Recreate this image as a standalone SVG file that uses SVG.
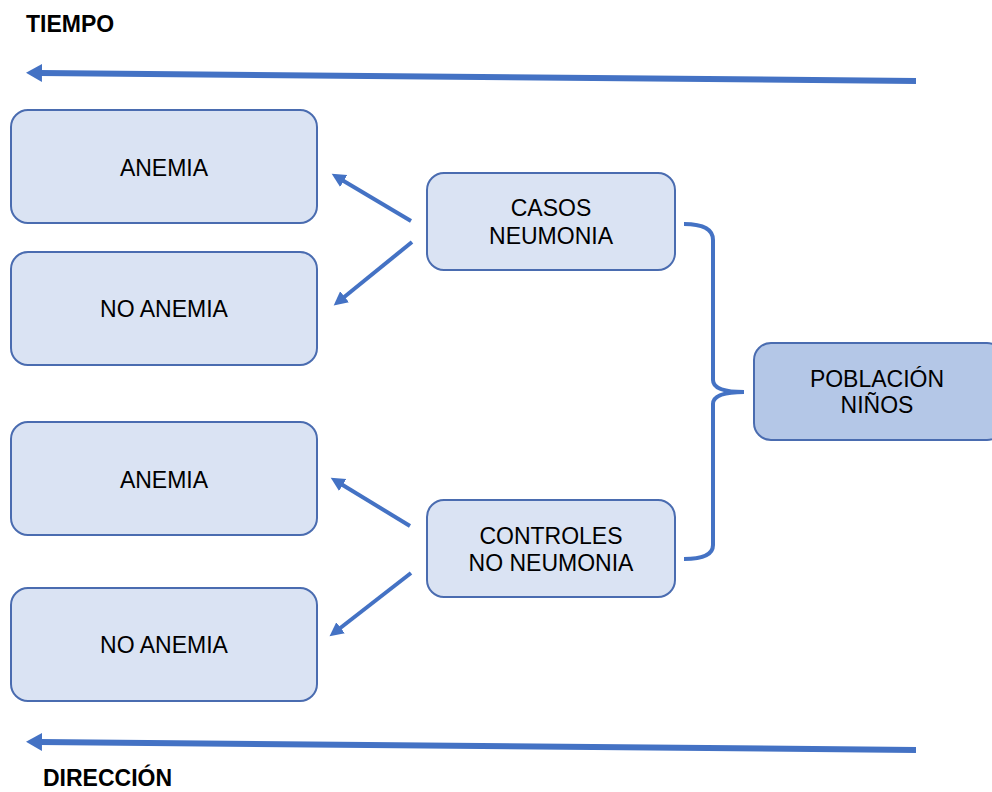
<svg xmlns="http://www.w3.org/2000/svg" width="992" height="792" viewBox="0 0 992 792">
<style>
.box{fill:#dae3f3;stroke:#4a6cb0;stroke-width:2}
.box2{fill:#b4c7e7;stroke:#4a6cb0;stroke-width:2}
.t{font-family:"Liberation Sans",Arial,sans-serif;font-size:23px;fill:#000;text-anchor:middle}
.h{font-family:"Liberation Sans",Arial,sans-serif;font-size:23px;font-weight:bold;fill:#000}
.big{stroke:#4472c4;stroke-width:6;fill:none}
.sm{stroke:#4472c4;stroke-width:4;fill:none}
</style>
<defs>
<marker id="ab" markerUnits="userSpaceOnUse" markerWidth="20" markerHeight="22" refX="2" refY="11" orient="auto" viewBox="0 0 20 22">
<path d="M0,2 L16,11 L0,20 Z" fill="#4472c4"/>
</marker>
<marker id="as" markerUnits="userSpaceOnUse" markerWidth="16" markerHeight="16" refX="2" refY="8" orient="auto" viewBox="0 0 16 16">
<path d="M0,1 L14,8 L0,15 Z" fill="#4472c4"/>
</marker>
</defs>
<rect width="992" height="792" fill="#fff"/>
<text class="h" x="26" y="32">TIEMPO</text>
<text class="h" x="43" y="786">DIRECCIÓN</text>
<g id="connectors">
<line class="big" x1="916" y1="81" x2="40" y2="73" marker-end="url(#ab)"/>
<line class="big" x1="916" y1="750" x2="40" y2="742" marker-end="url(#ab)"/>
<line class="sm" x1="411" y1="221" x2="342" y2="180" marker-end="url(#as)"/>
<line class="sm" x1="412" y1="242" x2="343" y2="298" marker-end="url(#as)"/>
<line class="sm" x1="410" y1="526" x2="341" y2="484" marker-end="url(#as)"/>
<line class="sm" x1="411" y1="573" x2="339" y2="629" marker-end="url(#as)"/>
<path class="sm" d="M684,224 Q713,224 713,240 L713,380 Q713,392 744,392 Q713,392 713,404 L713,545 Q713,559 684,559"/>
</g>
<g id="n1"><rect class="box" x="11" y="110" width="306" height="113" rx="17"/><text class="t" x="164" y="176">ANEMIA</text></g>
<g id="n2"><rect class="box" x="11" y="252" width="306" height="113" rx="17"/><text class="t" x="164" y="317">NO ANEMIA</text></g>
<g id="n3"><rect class="box" x="11" y="422" width="306" height="113" rx="17"/><text class="t" x="164" y="488">ANEMIA</text></g>
<g id="n4"><rect class="box" x="11" y="588" width="306" height="113" rx="17"/><text class="t" x="164" y="653">NO ANEMIA</text></g>
<g id="casos"><rect class="box" x="427" y="173" width="248" height="97" rx="17"/><text class="t" x="551" y="216">CASOS</text><text class="t" x="551" y="244">NEUMONIA</text></g>
<g id="controles"><rect class="box" x="427" y="500" width="248" height="97" rx="17"/><text class="t" x="551" y="544">CONTROLES</text><text class="t" x="551" y="571">NO NEUMONIA</text></g>
<g id="poblacion"><rect class="box2" x="754" y="343" width="250" height="97" rx="17"/><text class="t" x="877" y="387">POBLACIÓN</text><text class="t" x="877" y="413">NIÑOS</text></g>
</svg>
